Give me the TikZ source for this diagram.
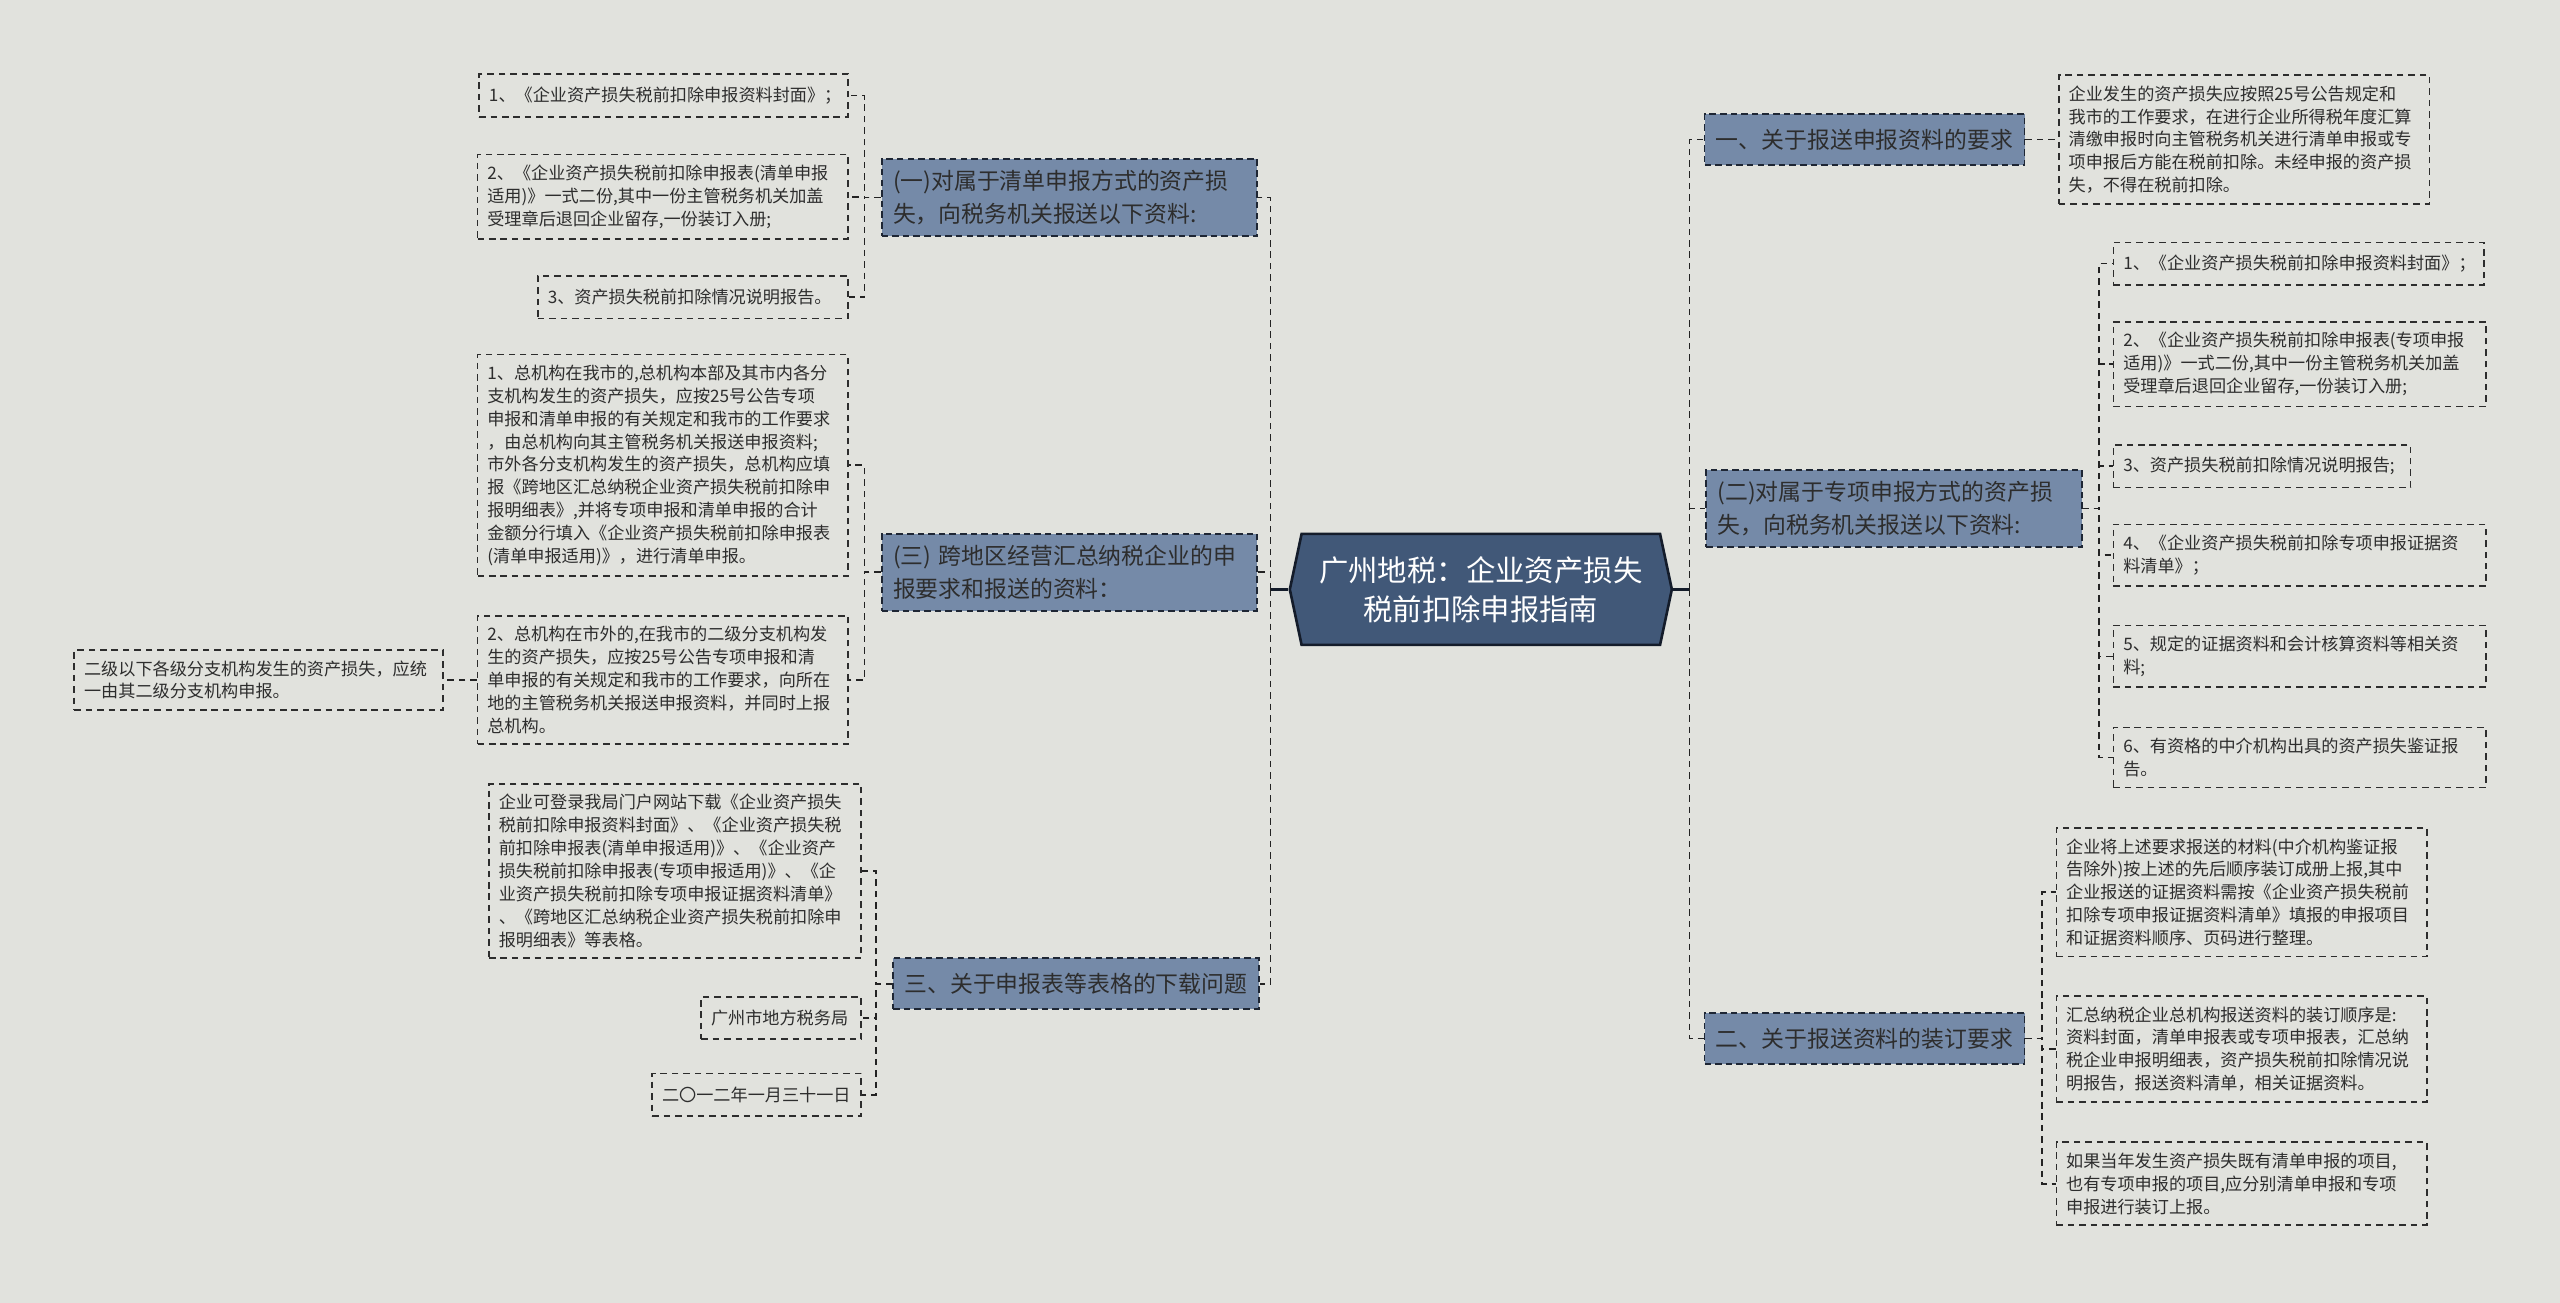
\documentclass[tikz,border=0pt]{standalone}
\usepackage{fontspec}
\setmainfont{Noto Sans CJK SC}
\usetikzlibrary{shapes.symbols, positioning}

\definecolor{bgcol}{RGB}{225,226,221}
\definecolor{hubfill}{RGB}{65,88,120}
\definecolor{hubline}{RGB}{20,28,42}
\definecolor{brfill}{RGB}{117,138,168}
\definecolor{brline}{RGB}{30,38,52}
\definecolor{leafline}{RGB}{45,45,45}
\definecolor{linecol}{RGB}{35,35,35}
\definecolor{textcol}{RGB}{45,45,45}

\begin{document}
\begin{tikzpicture}[x=1pt, y=-1pt,
    link/.style={draw=linecol, dash pattern=on 4pt off 3pt, line width=1pt},
    stub/.style={draw=hubline, line width=1.8pt},
    hub/.style={signal, signal to=west and east, signal pointer angle=156,
        fill=hubfill, draw=hubline, line width=1.6pt, text=white,
        font=\fontsize{18}{24}\selectfont, align=center,
        minimum width=234pt, minimum height=68pt, inner sep=4pt},
    branch/.style={fill=brfill, draw=brline, dash pattern=on 4pt off 2.5pt,
        line width=1.1pt, text=textcol, font=\fontsize{14}{20}\selectfont,
        align=left, inner xsep=7pt, inner ysep=7pt, minimum height=31pt},
    leaf/.style={draw=leafline, dash pattern=on 4pt off 3pt, line width=1pt,
        text=textcol, font=\fontsize{10.5}{14}\selectfont, align=left,
        inner xsep=6pt, inner ysep=6.5pt, minimum height=26pt}]
\fill[bgcol] (0,0) rectangle (1568,798);
\useasboundingbox (0,0) rectangle (1568,798);

% centre
\node[hub] (hub) at (907,361) {广州地税：企业资产损失\\税前扣除申报指南};

% left branches
\node[branch, text width=216pt] (b1) at (655,121)
    {(一)对属于清单申报方式的资产损\\失，向税务机关报送以下资料:};
\node[branch, text width=216pt] (b3) at (655,350.5)
    {(三) 跨地区经营汇总纳税企业的申\\报要求和报送的资料：};
\node[branch, minimum width=222pt] (b4) at (659,602.5)
    {三、关于申报表等表格的下载问题};

\node[leaf, text width=214pt, anchor=east] (a1) at (520,58.5)
    {1、《企业资产损失税前扣除申报资料封面》；};
\node[leaf, text width=215pt, anchor=east] (a2) at (520,120.5)
    {2、《企业资产损失税前扣除申报表(清单申报\\适用)》一式二份,其中一份主管税务机关加盖\\受理章后退回企业留存,一份装订入册;};
\node[leaf, text width=178pt, anchor=east] (a3) at (520,182)
    {3、资产损失税前扣除情况说明报告。};

\node[leaf, text width=215pt, anchor=east] (c1) at (520,285)
    {1、总机构在我市的,总机构本部及其市内各分\\支机构发生的资产损失，应按25号公告专项\\申报和清单申报的有关规定和我市的工作要求\\，由总机构向其主管税务机关报送申报资料;\\市外各分支机构发生的资产损失，总机构应填\\报《跨地区汇总纳税企业资产损失税前扣除申\\报明细表》,并将专项申报和清单申报的合计\\金额分行填入《企业资产损失税前扣除申报表\\(清单申报适用)》，进行清单申报。};
\node[leaf, text width=215pt, anchor=east] (c2) at (520,416.5)
    {2、总机构在市外的,在我市的二级分支机构发\\生的资产损失，应按25号公告专项申报和清\\单申报的有关规定和我市的工作要求，向所在\\地的主管税务机关报送申报资料，并同时上报\\总机构。};
\node[leaf, text width=214pt, left=20pt of c2] (c2x)
    {二级以下各级分支机构发生的资产损失，应统\\一由其二级分支机构申报。};

\node[leaf, text width=216pt, anchor=east] (d1) at (528,533.5)
    {企业可登录我局门户网站下载《企业资产损失\\税前扣除申报资料封面》、《企业资产损失税\\前扣除申报表(清单申报适用)》、《企业资产\\损失税前扣除申报表(专项申报适用)》、《企\\业资产损失税前扣除专项申报证据资料清单》\\、《跨地区汇总纳税企业资产损失税前扣除申\\报明细表》等表格。};
\node[leaf, text width=86pt, anchor=east] (d2) at (528,623.5) {广州市地方税务局};
\node[leaf, text width=116pt, anchor=east] (d3) at (528,670.5) {二〇一二年一月三十一日};

% right branches
\node[branch, minimum width=194pt] (r1) at (1142,85.5) {一、关于报送申报资料的要求};
\node[branch, text width=216pt] (r2) at (1160,311.5)
    {(二)对属于专项申报方式的资产损\\失，向税务机关报送以下资料:};
\node[branch, minimum width=194pt] (r3) at (1142,636) {二、关于报送资料的装订要求};

\node[leaf, text width=215pt, right=20pt of r1] (e1)
    {企业发生的资产损失应按照25号公告规定和\\我市的工作要求，在进行企业所得税年度汇算\\清缴申报时向主管税务机关进行清单申报或专\\项申报后方能在税前扣除。未经申报的资产损\\失，不得在税前扣除。};

\node[leaf, text width=215pt, anchor=west] (f1) at (1294,161.5)
    {1、《企业资产损失税前扣除申报资料封面》；};
\node[leaf, text width=216pt, anchor=west] (f2) at (1294,223)
    {2、《企业资产损失税前扣除申报表(专项申报\\适用)》一式二份,其中一份主管税务机关加盖\\受理章后退回企业留存,一份装订入册;};
\node[leaf, text width=170pt, anchor=west] (f3) at (1294,285.5)
    {3、资产损失税前扣除情况说明报告;};
\node[leaf, text width=216pt, anchor=west] (f4) at (1294,340)
    {4、《企业资产损失税前扣除专项申报证据资\\料清单》；};
\node[leaf, text width=216pt, anchor=west] (f5) at (1294,402)
    {5、规定的证据资料和会计核算资料等相关资\\料;};
\node[leaf, text width=216pt, anchor=west] (f6) at (1294,464)
    {6、有资格的中介机构出具的资产损失鉴证报\\告。};

\node[leaf, text width=215pt, anchor=west] (g1) at (1259,546.5)
    {企业将上述要求报送的材料(中介机构鉴证报\\告除外)按上述的先后顺序装订成册上报,其中\\企业报送的证据资料需按《企业资产损失税前\\扣除专项申报证据资料清单》填报的申报项目\\和证据资料顺序、页码进行整理。};
\node[leaf, text width=215pt, anchor=west] (g2) at (1259,642.5)
    {汇总纳税企业总机构报送资料的装订顺序是:\\资料封面，清单申报表或专项申报表，汇总纳\\税企业申报明细表，资产损失税前扣除情况说\\明报告，报送资料清单，相关证据资料。};
\node[leaf, text width=215pt, anchor=west] (g3) at (1259,725)
    {如果当年发生资产损失既有清单申报的项目,\\也有专项申报的项目,应分别清单申报和专项\\申报进行装订上报。};

% connectors
\draw[stub] (hub.west) -- ++(-11,0) coordinate (lt);
\draw[stub] (hub.east) -- ++(10,0) coordinate (rt);
\foreach \b in {b1,b3,b4}
    \draw[link] (lt) |- (\b.east);
\foreach \b in {r1,r2,r3}
    \draw[link] (rt) |- (\b.west);
\foreach \c in {a1,a2,a3}
    \draw[link] (b1.west) -- ++(-10,0) |- (\c.east);
\foreach \c in {c1,c2}
    \draw[link] (b3.west) -- ++(-10,0) |- (\c.east);
\draw[link] (c2.west) -- (c2x.east);
\foreach \c in {d1,d2,d3}
    \draw[link] (b4.west) -- ++(-10,0) |- (\c.east);
\draw[link] (r1.east) -- (e1.west);
\foreach \c in {f1,f2,f3,f4,f5,f6}
    \draw[link] (r2.east) -- ++(10,0) |- (\c.west);
\foreach \c in {g1,g2,g3}
    \draw[link] (r3.east) -- ++(10,0) |- (\c.west);
\end{tikzpicture}
\end{document}
